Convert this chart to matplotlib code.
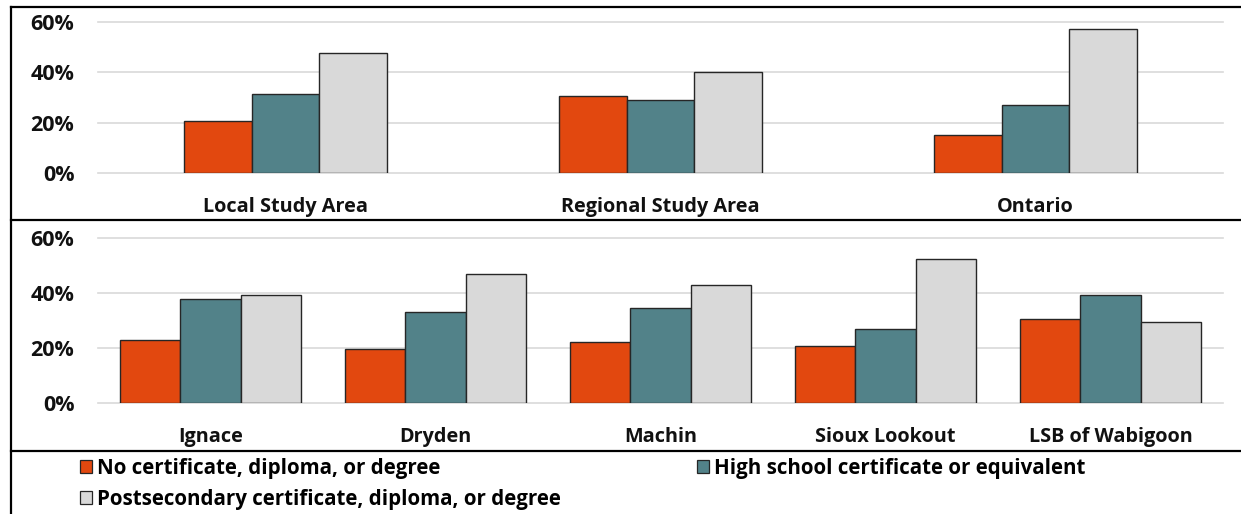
import numpy as np
import matplotlib
matplotlib.use("Agg")
import matplotlib.pyplot as plt
from matplotlib.patches import Patch
from matplotlib.lines import Line2D
from matplotlib.ticker import PercentFormatter

FONT = ['Open Sans', 'DejaVu Sans']
plt.rcParams['font.family'] = FONT
plt.rcParams['font.weight'] = 'bold'

# ---- data ----
top_categories = ["Local Study Area", "Regional Study Area", "Ontario"]
top_no_cert = [20.8, 30.7, 15.2]
top_high_school = [31.5, 29.0, 27.1]
top_postsecondary = [47.6, 40.0, 57.3]

bottom_categories = ["Ignace", "Dryden", "Machin", "Sioux Lookout", "LSB of Wabigoon"]
bottom_no_cert = [23.0, 19.6, 22.4, 20.7, 30.8]
bottom_high_school = [37.8, 33.2, 34.7, 26.9, 39.5]
bottom_postsecondary = [39.4, 47.0, 42.9, 52.4, 29.6]

series_names = ["No certificate, diploma, or degree",
                "High school certificate or equivalent",
                "Postsecondary certificate, diploma, or degree"]
series_colors = ["#E2480F", "#528289", "#D9D9D9"]
y_ticks = [0, 20, 40, 60]

W, H = 1241, 514
fig = plt.figure(figsize=(W / 100, H / 100), dpi=100)


def px_axes(x0, x1, y_top, y_bot):
    return fig.add_axes([x0 / W, 1 - y_bot / H, (x1 - x0) / W, (y_bot - y_top) / H])


def draw_panel(ax, cats, vals, bar_w, xpad):
    x = np.arange(len(cats))
    for i, (v, c) in enumerate(zip(vals, series_colors)):
        ax.bar(x + (i - 1) * bar_w, v, width=bar_w, color=c,
               edgecolor="#262626", linewidth=1.0, zorder=3)
    ax.set_xlim(-0.5, len(cats) - 0.5)
    ax.set_ylim(0, 60)
    ax.set_yticks(y_ticks)
    ax.yaxis.set_major_formatter(PercentFormatter(decimals=0))
    ax.set_xticks(x)
    ax.set_xticklabels(cats)
    for s in ax.spines.values():
        s.set_visible(False)
    ax.tick_params(axis="both", length=0, colors="#111111")
    ax.tick_params(axis="y", pad=17, labelsize=15.5)
    ax.tick_params(axis="x", pad=xpad, labelsize=14.3)
    ax.yaxis.grid(True, color="#D9D9D9", linewidth=1.2, zorder=0)
    for gl in ax.get_ygridlines():
        gl.set_clip_on(False)
    ax.set_axisbelow(True)
    for lbl in ax.get_xticklabels() + ax.get_yticklabels():
        lbl.set_fontweight("bold")


ax1 = px_axes(98, 1223, 22, 173)
draw_panel(ax1, top_categories, [top_no_cert, top_high_school, top_postsecondary], 0.181, 17)

ax2 = px_axes(98, 1223, 238.3, 403.3)
draw_panel(ax2, bottom_categories, [bottom_no_cert, bottom_high_school, bottom_postsecondary], 0.267, 17)

# frame lines
def hline(y, x0=11, x1=W):
    fig.add_artist(Line2D([x0 / W, x1 / W], [1 - y / H, 1 - y / H], color="black",
                          linewidth=1.6, transform=fig.transFigure))

hline(7)
hline(220)
hline(450.5)
fig.add_artist(Line2D([11 / W, 11 / W], [1 - 7 / H, 0], color="black",
                      linewidth=1.6, transform=fig.transFigure))

# legend (order arranged so that rows read: No | High, Post)
handles = [Patch(facecolor=c, edgecolor="#262626", linewidth=0.9) for c in series_colors]
order = [0, 2, 1]
leg = fig.legend([handles[i] for i in order], [series_names[i] for i in order],
                 ncol=2, loc="upper left", bbox_to_anchor=(80 / W, 1 - 458 / H),
                 frameon=False, prop={"family": FONT, "weight": "bold", "size": 14.8},
                 handlelength=0.6, handleheight=0.6, handletextpad=0.25,
                 columnspacing=6.6, labelspacing=0.48, borderpad=0.0, borderaxespad=0.0)

fig.savefig("out.png", dpi=100)
